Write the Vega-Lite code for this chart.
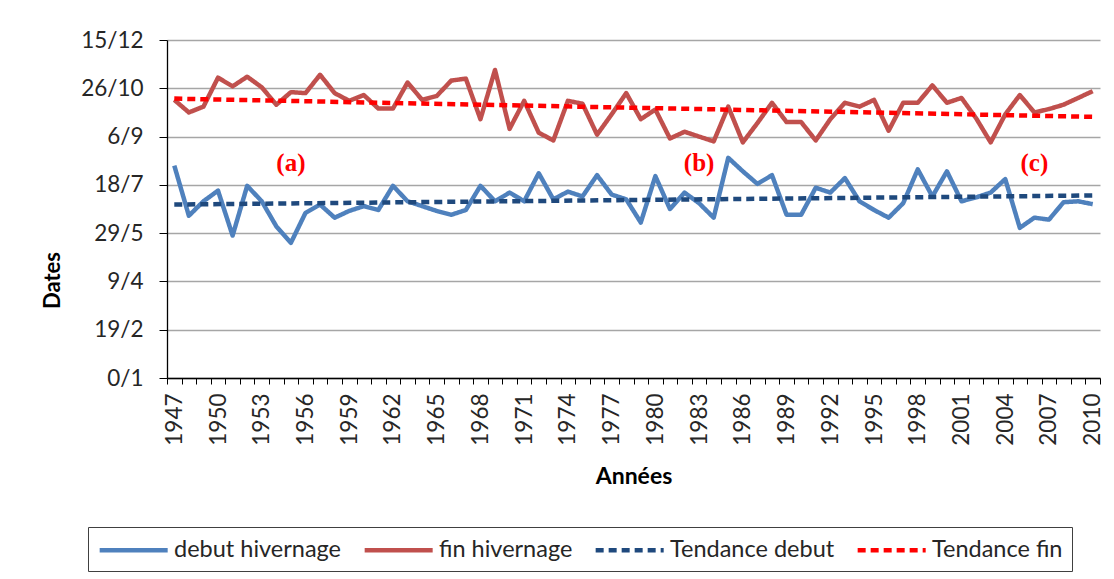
{
  "$schema": "https://vega.github.io/schema/vega-lite/v6.json",
  "width": 933,
  "height": 338,
  "autosize": {"type": "none"},
  "padding": {"left": 167, "top": 40, "right": 14, "bottom": 201},
  "background": "white",
  "datasets": {
    "series": [
      {"year":1947,"serie":"debut hivernage","value":220},{"year":1948,"serie":"debut hivernage","value":168},{"year":1949,"serie":"debut hivernage","value":183},{"year":1950,"serie":"debut hivernage","value":194},{"year":1951,"serie":"debut hivernage","value":147.5},{"year":1952,"serie":"debut hivernage","value":199},{"year":1953,"serie":"debut hivernage","value":183},{"year":1954,"serie":"debut hivernage","value":157},{"year":1955,"serie":"debut hivernage","value":140},{"year":1956,"serie":"debut hivernage","value":171},{"year":1957,"serie":"debut hivernage","value":179.6},{"year":1958,"serie":"debut hivernage","value":166},{"year":1959,"serie":"debut hivernage","value":173},{"year":1960,"serie":"debut hivernage","value":178},{"year":1961,"serie":"debut hivernage","value":174},{"year":1962,"serie":"debut hivernage","value":199},{"year":1963,"serie":"debut hivernage","value":183},{"year":1964,"serie":"debut hivernage","value":178},{"year":1965,"serie":"debut hivernage","value":173},{"year":1966,"serie":"debut hivernage","value":169},{"year":1967,"serie":"debut hivernage","value":174},{"year":1968,"serie":"debut hivernage","value":199},{"year":1969,"serie":"debut hivernage","value":183},{"year":1970,"serie":"debut hivernage","value":192},{"year":1971,"serie":"debut hivernage","value":183},{"year":1972,"serie":"debut hivernage","value":212},{"year":1973,"serie":"debut hivernage","value":185},{"year":1974,"serie":"debut hivernage","value":193},{"year":1975,"serie":"debut hivernage","value":188},{"year":1976,"serie":"debut hivernage","value":210},{"year":1977,"serie":"debut hivernage","value":190},{"year":1978,"serie":"debut hivernage","value":185},{"year":1979,"serie":"debut hivernage","value":161},{"year":1980,"serie":"debut hivernage","value":209},{"year":1981,"serie":"debut hivernage","value":175},{"year":1982,"serie":"debut hivernage","value":192},{"year":1983,"serie":"debut hivernage","value":181},{"year":1984,"serie":"debut hivernage","value":166},{"year":1985,"serie":"debut hivernage","value":228},{"year":1986,"serie":"debut hivernage","value":214},{"year":1987,"serie":"debut hivernage","value":201},{"year":1988,"serie":"debut hivernage","value":210},{"year":1989,"serie":"debut hivernage","value":169},{"year":1990,"serie":"debut hivernage","value":169},{"year":1991,"serie":"debut hivernage","value":197},{"year":1992,"serie":"debut hivernage","value":192},{"year":1993,"serie":"debut hivernage","value":207},{"year":1994,"serie":"debut hivernage","value":183},{"year":1995,"serie":"debut hivernage","value":174},{"year":1996,"serie":"debut hivernage","value":166},{"year":1997,"serie":"debut hivernage","value":181},{"year":1998,"serie":"debut hivernage","value":216},{"year":1999,"serie":"debut hivernage","value":188},{"year":2000,"serie":"debut hivernage","value":214},{"year":2001,"serie":"debut hivernage","value":183},{"year":2002,"serie":"debut hivernage","value":187},{"year":2003,"serie":"debut hivernage","value":192},{"year":2004,"serie":"debut hivernage","value":206},{"year":2005,"serie":"debut hivernage","value":155.5},{"year":2006,"serie":"debut hivernage","value":166},{"year":2007,"serie":"debut hivernage","value":164},{"year":2008,"serie":"debut hivernage","value":182},{"year":2009,"serie":"debut hivernage","value":183},{"year":2010,"serie":"debut hivernage","value":180},
      {"year":1947,"serie":"fin hivernage","value":288},{"year":1948,"serie":"fin hivernage","value":275},{"year":1949,"serie":"fin hivernage","value":281},{"year":1950,"serie":"fin hivernage","value":311},{"year":1951,"serie":"fin hivernage","value":302},{"year":1952,"serie":"fin hivernage","value":312},{"year":1953,"serie":"fin hivernage","value":301},{"year":1954,"serie":"fin hivernage","value":283},{"year":1955,"serie":"fin hivernage","value":296},{"year":1956,"serie":"fin hivernage","value":295},{"year":1957,"serie":"fin hivernage","value":314},{"year":1958,"serie":"fin hivernage","value":295},{"year":1959,"serie":"fin hivernage","value":287},{"year":1960,"serie":"fin hivernage","value":293},{"year":1961,"serie":"fin hivernage","value":279},{"year":1962,"serie":"fin hivernage","value":279},{"year":1963,"serie":"fin hivernage","value":306},{"year":1964,"serie":"fin hivernage","value":288},{"year":1965,"serie":"fin hivernage","value":292},{"year":1966,"serie":"fin hivernage","value":308},{"year":1967,"serie":"fin hivernage","value":310},{"year":1968,"serie":"fin hivernage","value":268},{"year":1969,"serie":"fin hivernage","value":319},{"year":1970,"serie":"fin hivernage","value":258},{"year":1971,"serie":"fin hivernage","value":287},{"year":1972,"serie":"fin hivernage","value":254},{"year":1973,"serie":"fin hivernage","value":246},{"year":1974,"serie":"fin hivernage","value":287},{"year":1975,"serie":"fin hivernage","value":284},{"year":1976,"serie":"fin hivernage","value":252},{"year":1977,"serie":"fin hivernage","value":273},{"year":1978,"serie":"fin hivernage","value":295},{"year":1979,"serie":"fin hivernage","value":268},{"year":1980,"serie":"fin hivernage","value":278},{"year":1981,"serie":"fin hivernage","value":248},{"year":1982,"serie":"fin hivernage","value":255},{"year":1983,"serie":"fin hivernage","value":250},{"year":1984,"serie":"fin hivernage","value":245},{"year":1985,"serie":"fin hivernage","value":281},{"year":1986,"serie":"fin hivernage","value":244},{"year":1987,"serie":"fin hivernage","value":264},{"year":1988,"serie":"fin hivernage","value":285},{"year":1989,"serie":"fin hivernage","value":265},{"year":1990,"serie":"fin hivernage","value":265},{"year":1991,"serie":"fin hivernage","value":246},{"year":1992,"serie":"fin hivernage","value":268},{"year":1993,"serie":"fin hivernage","value":285},{"year":1994,"serie":"fin hivernage","value":281},{"year":1995,"serie":"fin hivernage","value":288},{"year":1996,"serie":"fin hivernage","value":256},{"year":1997,"serie":"fin hivernage","value":285},{"year":1998,"serie":"fin hivernage","value":285},{"year":1999,"serie":"fin hivernage","value":303},{"year":2000,"serie":"fin hivernage","value":285},{"year":2001,"serie":"fin hivernage","value":290},{"year":2002,"serie":"fin hivernage","value":269},{"year":2003,"serie":"fin hivernage","value":244},{"year":2004,"serie":"fin hivernage","value":273},{"year":2005,"serie":"fin hivernage","value":293},{"year":2006,"serie":"fin hivernage","value":275},{"year":2007,"serie":"fin hivernage","value":278.5},{"year":2008,"serie":"fin hivernage","value":283},{"year":2009,"serie":"fin hivernage","value":290},{"year":2010,"serie":"fin hivernage","value":297},
      {"year":1947,"serie":"Tendance debut","value":179.6},{"year":2010,"serie":"Tendance debut","value":189},
      {"year":1947,"serie":"Tendance fin","value":289.3},{"year":2010,"serie":"Tendance fin","value":270.4}
    ],
    "labels": [
      {"year":1955,"value":223,"label":"(a)"},
      {"year":1983,"value":223,"label":"(b)"},
      {"year":2006,"value":223,"label":"(c)"}
    ]
  },
  "layer": [
    {
      "data": {"name": "series"},
      "mark": {"type": "line", "strokeCap": "butt", "strokeJoin": "round"},
      "encoding": {
        "x": {
          "field": "year", "type": "ordinal", "bandPosition": 0.5,
          "scale": {"type": "band", "paddingInner": 0, "paddingOuter": 0},
          "axis": {
            "title": "Années",
            "labelAngle": 270,
            "labelAlign": "right",
            "labelBaseline": "middle",
            "labelExpr": "(toNumber(datum.value) - 1947) % 3 == 0 ? datum.value : ''",
            "labelOverlap": false,
            "labelPadding": 9,
            "labelFont": "Lato",
            "labelFontSize": 22.5,
            "labelColor": "#262626",
            "tickBand": "extent",
            "tickSize": 6,
            "tickColor": "#000000",
            "domainColor": "#000000",
            "domainWidth": 1.3,
            "titleFont": "Lato",
            "titleFontSize": 23,
            "titleFontWeight": "bold",
            "titleColor": "#000000",
            "titlePadding": 20,
            "grid": false
          }
        },
        "y": {
          "field": "value", "type": "quantitative",
          "scale": {"domain": [0, 350], "nice": false, "zero": true},
          "axis": {
            "title": "Dates",
            "values": [0, 50, 100, 150, 200, 250, 300, 350],
            "labelExpr": "['0/1','19/2','9/4','29/5','18/7','6/9','26/10','15/12'][round(datum.value / 50)]",
            "labelFont": "Lato",
            "labelFontSize": 22.5,
            "labelColor": "#262626",
            "labelPadding": 16,
            "tickSize": 8,
            "tickColor": "#000000",
            "domainColor": "#000000",
            "domainWidth": 1.3,
            "grid": true,
            "gridColor": "#A6A6A6",
            "gridWidth": 1.5,
            "titleFont": "Lato",
            "titleFontSize": 22,
            "titleFontWeight": "bold",
            "titleColor": "#000000",
            "titleAngle": 270,
            "titleX": -115,
            "titleY": 240,
            "titleAlign": "center",
            "titleBaseline": "middle"
          }
        },
        "color": {
          "field": "serie", "type": "nominal",
          "scale": {
            "domain": ["debut hivernage", "fin hivernage", "Tendance debut", "Tendance fin"],
            "range": ["#4F81BD", "#C0504D", "#1F497D", "#FF0000"]
          },
          "legend": {
            "title": null,
            "orient": "none",
            "legendX": -79,
            "legendY": 487,
            "direction": "horizontal",
            "columns": 4,
            "columnPadding": 13,
            "symbolType": "M-1,0H5",
            "symbolSize": 514,
            "symbolStrokeWidth": 4,
            "labelOffset": 49,
            "labelFont": "Lato",
            "labelFontSize": 23.5,
            "labelColor": "#262626",
            "labelLimit": 400,
            "strokeColor": "#404040",
            "padding": 9
          }
        },
        "strokeDash": {
          "field": "serie", "type": "nominal",
          "scale": {
            "domain": ["debut hivernage", "fin hivernage", "Tendance debut", "Tendance fin"],
            "range": [[1, 0], [1, 0], [8, 5], [8, 5]]
          },
          "legend": {
            "title": null,
            "orient": "none",
            "legendX": -79,
            "legendY": 487,
            "direction": "horizontal",
            "columns": 4,
            "columnPadding": 13,
            "symbolType": "M-1,0H5",
            "symbolSize": 514,
            "symbolStrokeWidth": 4,
            "labelOffset": 49,
            "labelFont": "Lato",
            "labelFontSize": 23.5,
            "labelColor": "#262626",
            "labelLimit": 400,
            "strokeColor": "#404040",
            "padding": 9
          }
        },
        "strokeWidth": {
          "field": "serie", "type": "nominal",
          "scale": {
            "domain": ["debut hivernage", "fin hivernage", "Tendance debut", "Tendance fin"],
            "range": [4.5, 4.5, 3, 3]
          },
          "legend": null
        }
      }
    },
    {
      "data": {"name": "labels"},
      "mark": {"type": "text", "font": "Liberation Serif", "fontWeight": "bold", "fontSize": 25, "color": "#FF0000", "baseline": "middle", "align": "center"},
      "encoding": {
        "x": {"field": "year", "type": "ordinal", "bandPosition": 0.5},
        "y": {"field": "value", "type": "quantitative"},
        "text": {"field": "label", "type": "nominal"}
      }
    }
  ],
  "config": {
    "view": {"stroke": null}
  }
}
